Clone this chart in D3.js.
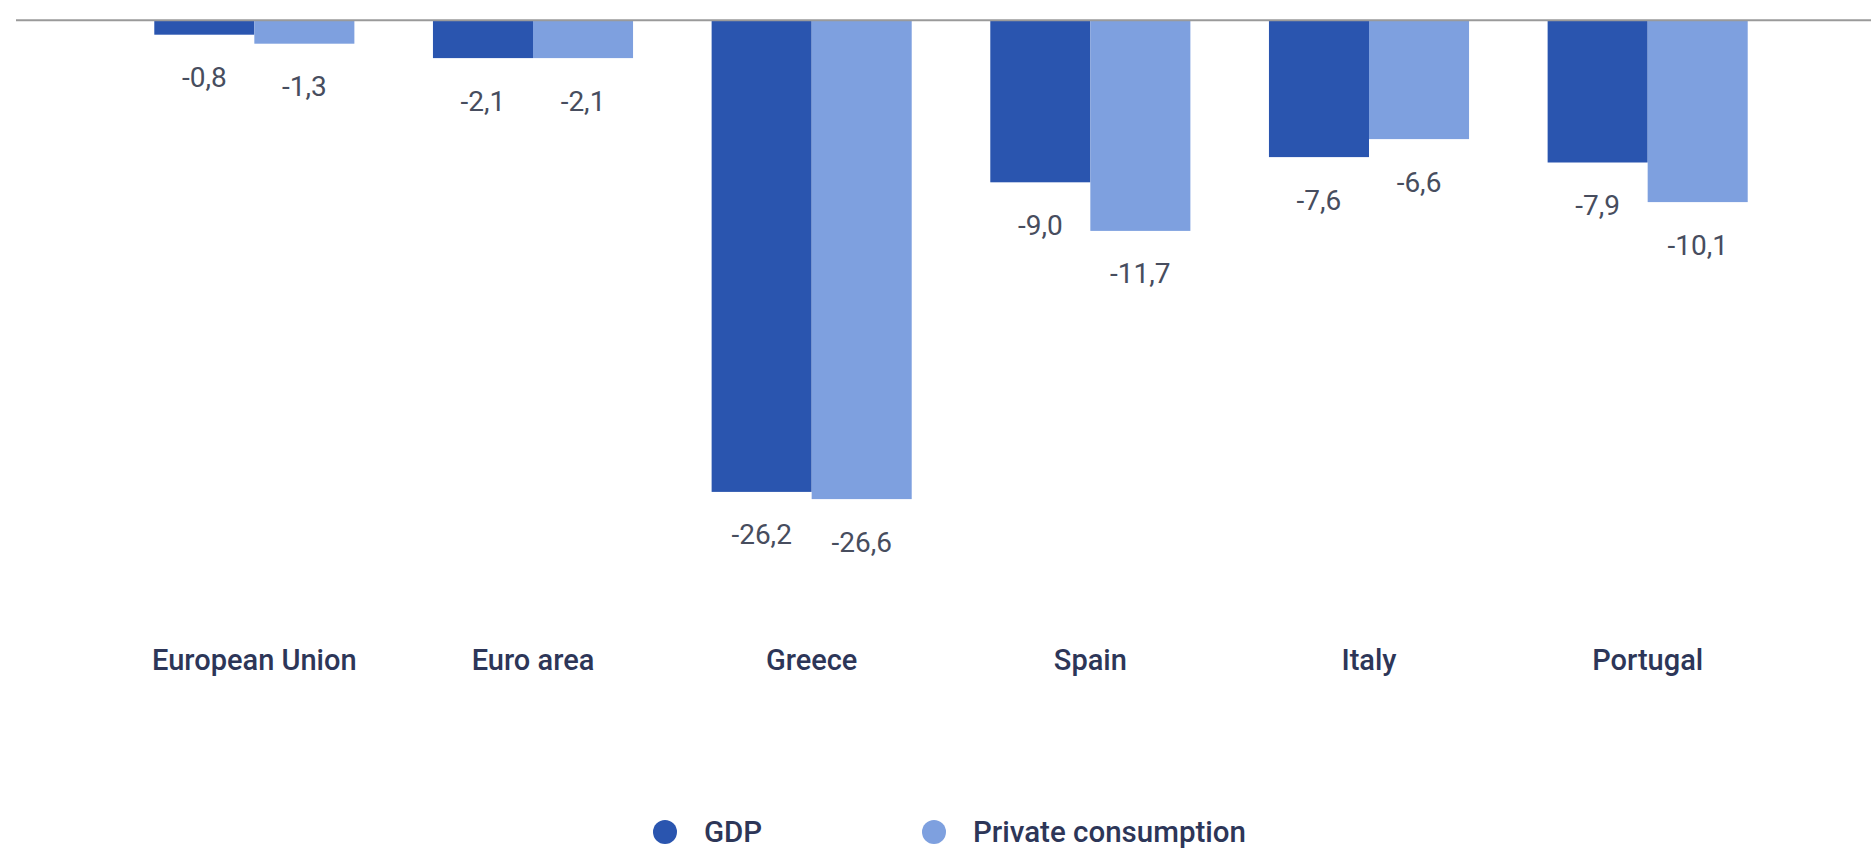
<!DOCTYPE html>
<html>
<head>
<meta charset="utf-8">
<script src="https://cdn.jsdelivr.net/npm/d3@7"></script>
<style>
  html, body { margin: 0; padding: 0; background: #ffffff; }
  svg { display: block; }
</style>
</head>
<body>
<svg id="chart" width="1871" height="850"></svg>
<script>
// Change in GDP and private consumption, per cent
const categories = ["European Union", "Euro area", "Greece", "Spain", "Italy", "Portugal"];
const seriesNames = ["GDP", "Private consumption"];
const gdp = [-0.8, -2.1, -26.2, -9.0, -7.6, -7.9];
const privateConsumption = [-1.3, -2.1, -26.6, -11.7, -6.6, -10.1];
const seriesColors = ["#2a55af", "#7ea0df"];

const W = 1871, H = 850;
const svg = d3.select("#chart");

const x = d3.scaleBand()
  .domain(categories)
  .range([115, 1787])
  .paddingInner(0.282)
  .paddingOuter(0.141);

const xInner = d3.scaleBand()
  .domain(seriesNames)
  .range([0, x.bandwidth()]);

const y = d3.scaleLinear()
  .domain([0, -30])
  .range([20.3, 20.3 + 30 * 18.0]);

const color = d3.scaleOrdinal().domain(seriesNames).range(seriesColors);

const rows = categories.map((c, i) => ({
  category: c,
  values: [
    { series: seriesNames[0], value: gdp[i] },
    { series: seriesNames[1], value: privateConsumption[i] }
  ]
}));

const fmt = v => d3.format(".1f")(v).replace("−", "-").replace(".", ",");

const groups = svg.append("g")
  .selectAll("g")
  .data(rows)
  .join("g")
  .attr("transform", d => `translate(${x(d.category)},0)`);

groups.selectAll("rect")
  .data(d => d.values)
  .join("rect")
  .attr("x", d => xInner(d.series))
  .attr("y", y(0))
  .attr("width", xInner.bandwidth())
  .attr("height", d => y(d.value) - y(0))
  .attr("fill", d => color(d.series));

groups.selectAll("text.value")
  .data(d => d.values)
  .join("text")
  .attr("class", "value")
  .attr("x", d => xInner(d.series) + xInner.bandwidth() / 2)
  .attr("y", d => y(d.value) + 43)
  .attr("text-anchor", "middle")
  .attr("dominant-baseline", "central")
  .attr("font-family", "Roboto, sans-serif")
  .attr("font-size", 28)
  .attr("font-weight", 400)
  .attr("fill", "#474d5e")
  .text(d => fmt(d.value));

// zero baseline
svg.append("line")
  .attr("x1", 16).attr("x2", W)
  .attr("y1", y(0)).attr("y2", y(0))
  .attr("stroke", "#9a9a9a")
  .attr("stroke-width", 2);

// category axis labels
const xAxis = d3.axisBottom(x).tickSize(0).tickPadding(0);
const axisG = svg.append("g")
  .attr("transform", "translate(0,660)")
  .call(xAxis);
axisG.select(".domain").remove();
axisG.selectAll("text")
  .attr("dy", "0.35em")
  .attr("font-family", "Roboto, sans-serif")
  .attr("font-size", 29)
  .attr("font-weight", 500)
  .attr("fill", "#2d3658");

// legend
const legendItems = [
  { name: seriesNames[0], cx: 665 },
  { name: seriesNames[1], cx: 934 }
];
const legend = svg.append("g").attr("transform", "translate(0,832)");
const li = legend.selectAll("g")
  .data(legendItems)
  .join("g")
  .attr("transform", d => `translate(${d.cx},0)`);
li.append("circle")
  .attr("r", 12)
  .attr("fill", d => color(d.name));
li.append("text")
  .attr("x", 39)
  .attr("dy", "0.35em")
  .attr("font-family", "Roboto, sans-serif")
  .attr("font-size", 29.5)
  .attr("font-weight", 500)
  .attr("fill", "#2d3658")
  .text(d => d.name);
</script>
</body>
</html>
